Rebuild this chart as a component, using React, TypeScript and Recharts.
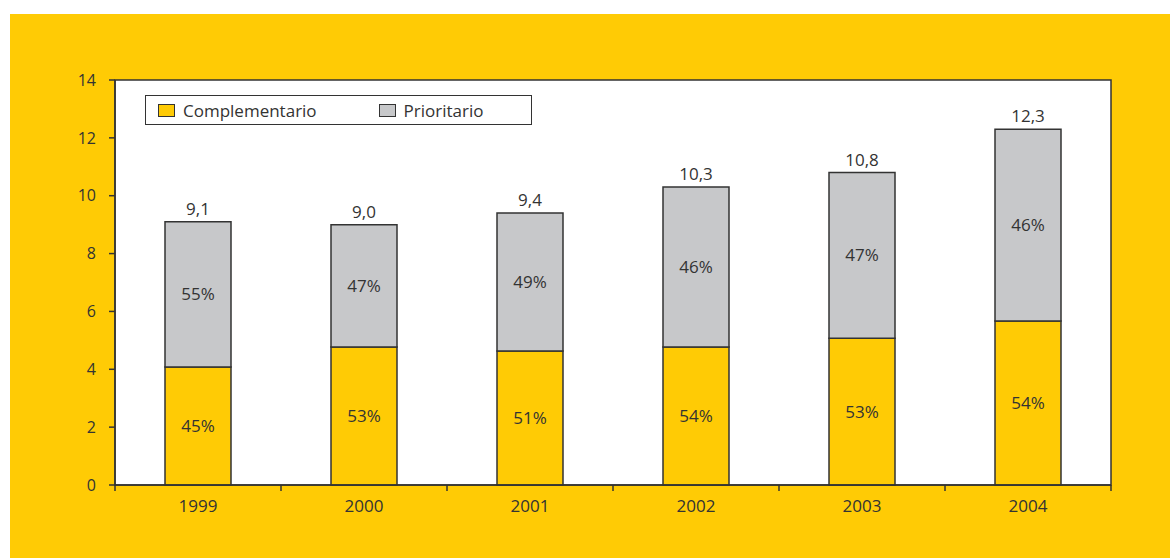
import React from "react";
import { BarChart, Bar, XAxis, YAxis, LabelList, Legend, ReferenceArea } from "recharts";

const years = ["1999", "2000", "2001", "2002", "2003", "2004"];
const complementario = [4.08, 4.77, 4.63, 4.77, 5.07, 5.67];
const prioritario = [5.02, 4.23, 4.77, 5.53, 5.73, 6.63];
const totalLabels = ["9,1", "9,0", "9,4", "10,3", "10,8", "12,3"];
const compPct = ["45%", "53%", "51%", "54%", "53%", "54%"];
const prioPct = ["55%", "47%", "49%", "46%", "47%", "46%"];
const yTicks = [0, 2, 4, 6, 8, 10, 12, 14];

const YELLOW = "#FFCB05";
const GRAY = "#C7C8CA";
const INK = "#333333";
const FONT = "'Open Sans', sans-serif";

const data = years.map((y, i) => ({
  year: y,
  comp: complementario[i],
  prio: prioritario[i],
  total: totalLabels[i],
  cp: compPct[i],
  pp: prioPct[i],
}));

const LegendBox = () => (
  <div
    style={{
      width: 385,
      height: 28,
      border: `1.5px solid ${INK}`,
      background: "#fff",
      display: "flex",
      alignItems: "center",
      fontFamily: FONT,
      fontSize: 17,
      color: INK,
      boxSizing: "content-box",
    }}
  >
    <span style={{ display: "inline-block", width: 15, height: 11, background: YELLOW, border: `1.5px solid ${INK}`, marginLeft: 12 }} />
    <span style={{ marginLeft: 8 }}>Complementario</span>
    <span style={{ display: "inline-block", width: 15, height: 11, background: GRAY, border: `1.5px solid ${INK}`, marginLeft: 62 }} />
    <span style={{ marginLeft: 8 }}>Prioritario</span>
  </div>
);

const YearTick = (props: any) => {
  const { x, y, payload, index, visibleTicksCount, width } = props;
  const half = width / (2 * visibleTicksCount);
  const axisY = y - 15;
  return (
    <g>
      <line x1={x - half} x2={x - half} y1={axisY} y2={axisY + 6} stroke={INK} strokeWidth={1.5} />
      {index === visibleTicksCount - 1 && (
        <line x1={x + half} x2={x + half} y1={axisY} y2={axisY + 6} stroke={INK} strokeWidth={1.5} />
      )}
      <text x={x} y={y} dy="0.71em" textAnchor="middle" fill={INK} fontSize={17} fontFamily={FONT}>
        {payload.value}
      </text>
    </g>
  );
};

export default function App() {
  return (
    <div style={{ position: "absolute", left: 10, top: 14, width: 1160, height: 544, background: YELLOW }}>
      <BarChart
        width={1160}
        height={544}
        data={data}
        margin={{ top: 66, right: 59, bottom: 43, left: 45 }}
        barSize={66}
        style={{ fontFamily: FONT }}
      >
        <ReferenceArea y1={0} y2={14} fill="#fff" fillOpacity={1} stroke={INK} strokeWidth={1.5} ifOverflow="visible" />
        <XAxis dataKey="year" axisLine={{ stroke: INK, strokeWidth: 1.5 }} tickLine={false} tickSize={6} tickMargin={9} height={30} tick={<YearTick />} interval={0} />
        <YAxis domain={[0, 14]} ticks={yTicks} width={60} tickSize={6} tickMargin={13} axisLine={{ stroke: INK, strokeWidth: 1.5 }} tickLine={{ stroke: INK, strokeWidth: 1.5 }} tick={{ fill: INK, fontSize: 16, fontFamily: FONT }} />
        <Legend layout="horizontal" verticalAlign="middle" align="center" content={<LegendBox />} wrapperStyle={{ position: "absolute", left: 135, top: 81, width: "auto" }} />
        <Bar dataKey="comp" stackId="a" fill={YELLOW} stroke={INK} strokeWidth={1.5} isAnimationActive={false} name="Complementario">
          <LabelList dataKey="cp" position="center" fill={INK} fontSize={17} fontFamily={FONT} />
        </Bar>
        <Bar dataKey="prio" stackId="a" fill={GRAY} stroke={INK} strokeWidth={1.5} isAnimationActive={false} name="Prioritario">
          <LabelList dataKey="pp" position="center" fill={INK} fontSize={17} fontFamily={FONT} />
          <LabelList dataKey="total" position="top" offset={7} fill={INK} fontSize={17} fontFamily={FONT} />
        </Bar>
      </BarChart>
    </div>
  );
}
